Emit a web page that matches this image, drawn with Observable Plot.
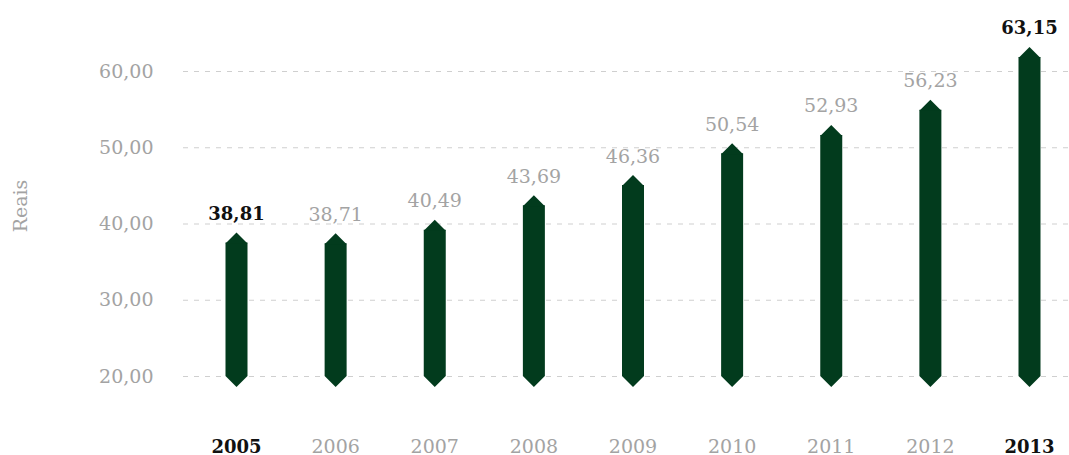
<!DOCTYPE html>
<html>
<head>
<meta charset="utf-8">
<script src="https://cdn.jsdelivr.net/npm/d3@7"></script>
<script src="https://cdn.jsdelivr.net/npm/@observablehq/plot@0.6"></script>
<style>
  html, body { margin: 0; padding: 0; background: #fff; }
</style>
</head>
<body>
<div id="chart"></div>
<script>
const years = [2005, 2006, 2007, 2008, 2009, 2010, 2011, 2012, 2013];
const values = [38.81, 38.71, 40.49, 43.69, 46.36, 50.54, 52.93, 56.23, 63.15];
const highlighted = [2005, 2013];
const yTicks = [20, 30, 40, 50, 60];
const yLabel = "Reais";

const data = years.map((year, i) => ({year, value: values[i], hi: highlighted.includes(year)}));

const barColor = "#023b1d";
const grayText = "#a3a3a3";
const darkText = "#111111";
const fmt = v => v.toFixed(2).replace(".", ",");

const topTip = {draw(ctx) { ctx.moveTo(0, -0.5); ctx.lineTo(11, 10.5); ctx.lineTo(-11, 10.5); ctx.closePath(); }};
const bottomTip = {draw(ctx) { ctx.moveTo(-11, -0.5); ctx.lineTo(11, -0.5); ctx.lineTo(0, 10.5); ctx.closePath(); }};

const plot = Plot.plot({
  width: 1069,
  height: 455,
  marginLeft: 236,
  marginRight: 40,
  marginTop: 71,
  marginBottom: 79,
  style: {fontFamily: "'DejaVu Serif', serif", background: "#fff"},
  x: {domain: [2005, 2013], axis: null},
  y: {domain: [20, 60], axis: null},
  marks: [
    Plot.ruleY(yTicks, {y: d => d, stroke: "#cfcfcf", strokeDasharray: "5,6", strokeWidth: 1, insetLeft: -53, insetRight: -40}),
    Plot.text(yTicks, {y: d => d, text: d => fmt(d), frameAnchor: "left", textAnchor: "end", dx: -83, fill: grayText, fontSize: 19}),
    Plot.text([yLabel], {frameAnchor: "left", textAnchor: "middle", dx: -216, dy: -18, rotate: -90, fill: grayText, fontSize: 19}),
    Plot.ruleX(data, {x: "year", y1: "value", y2: () => 20, stroke: barColor, strokeWidth: 22, insetTop: 10}),
    Plot.dot(data, {x: "year", y: "value", symbol: topTip, fill: barColor, stroke: "none"}),
    Plot.dot(data, {x: "year", y: () => 20, symbol: bottomTip, fill: barColor, stroke: "none"}),
    Plot.text(data.filter(d => !d.hi), {x: "year", y: "value", text: d => fmt(d.value), lineAnchor: "bottom", dy: -13, fill: grayText, fontSize: 19}),
    Plot.text(data.filter(d => d.hi), {x: "year", y: "value", text: d => fmt(d.value), lineAnchor: "bottom", dy: -13, fill: darkText, fontSize: 18, fontWeight: "bold"}),
    Plot.text(data.filter(d => !d.hi), {x: "year", text: d => String(d.year), frameAnchor: "bottom", lineAnchor: "bottom", dy: 76, fill: grayText, fontSize: 19}),
    Plot.text(data.filter(d => d.hi), {x: "year", text: d => String(d.year), frameAnchor: "bottom", lineAnchor: "bottom", dy: 76, fill: darkText, fontSize: 18, fontWeight: "bold"})
  ]
});
document.getElementById("chart").appendChild(plot);
</script>
</body>
</html>
